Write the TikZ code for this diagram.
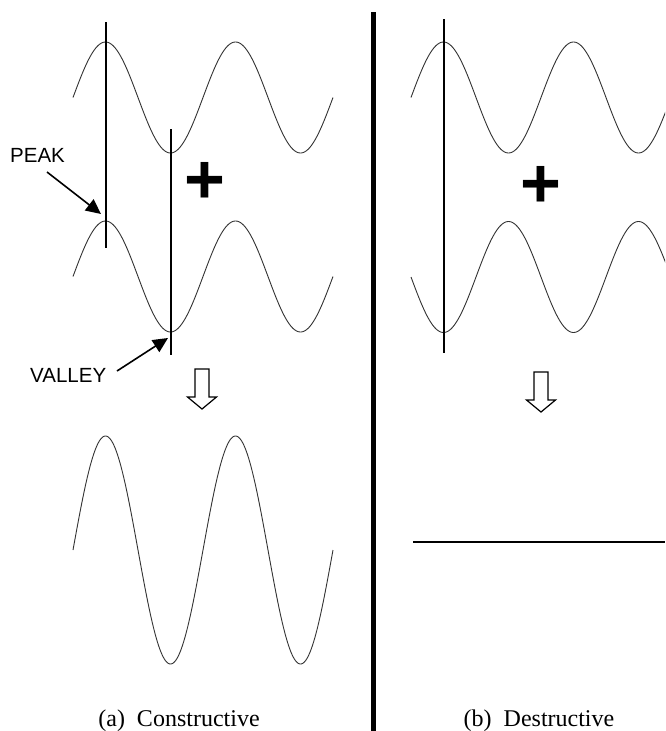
\documentclass[tikz,border=0pt]{standalone}
\usepackage{fontspec}
\newfontfamily\labelfont{Liberation Sans}
\newfontfamily\capfont{Liberation Serif}
\usetikzlibrary{arrows.meta}
\begin{document}
\begin{tikzpicture}[x=1pt,y=-1pt,
  wave/.style={draw=black!80, line width=0.9pt, line join=round},
  guide/.style={draw=black, line width=1.4pt},
  ptr/.style={draw=black, line width=1.6pt, -{Triangle[length=15pt,width=14pt]}},
  blockarrow/.style={draw=black, line width=1.2pt, fill=white, line join=miter},
  lbl/.style={font=\labelfont\fontsize{20.5}{22}\selectfont, inner sep=0pt},
  captext/.style={font=\capfont\fontsize{24}{26}\selectfont, inner sep=0pt},
  plussign/.style={font=\labelfont\bfseries\fontsize{70}{70}\selectfont, inner sep=0pt}]
\useasboundingbox (0,0) rectangle (665,731);

% ---------- left panel: constructive ----------
\draw[wave] plot[domain=73:333, samples=240] (\x, {97.5 - 55.5*sin(2.76923*(\x-73))});
\draw[wave] plot[domain=73:333, samples=240] (\x, {276.5 - 55.5*sin(2.76923*(\x-73))});
\draw[wave] plot[domain=73:333, samples=300] (\x, {550 - 114*sin(2.76923*(\x-73))});

\coordinate (g1top) at (106,22);  \coordinate (g1bot) at (106,248);
\coordinate (g2top) at (171,129); \coordinate (g2bot) at (171,355);
\draw[guide] (g1top) -- (g1bot);
\draw[guide] (g2top) -- (g2bot);

\node[plussign] (plusL) at (204.5,183) {+};

\node[lbl, anchor=base west] (peak) at (10,162) {PEAK};
\coordinate (peakfrom) at (47,172);
\coordinate (peaktip) at (101,214);
\draw[ptr] (peakfrom) -- (peaktip);

\node[lbl, anchor=base west] (valley) at (30,382) {VALLEY};
\coordinate (valleyfrom) at (117,371);
\coordinate (valleytip) at (168,338);
\draw[ptr] (valleyfrom) -- (valleytip);

\draw[blockarrow] (195,369) -- (209,369) -- (209,397) -- (216.5,397) -- (202,409)
  -- (187.5,397) -- (195,397) -- cycle;

\node[captext, anchor=base] (capA) at (179,726) {(a)\ \ Constructive};

% ---------- divider ----------
\coordinate (divtop) at (373.5,12);
\coordinate (divbot) at (373.5,731);
\draw[draw=black, line width=5.5pt] (divtop) -- (divbot);

% ---------- right panel: destructive ----------
\begin{scope}
\clip (376,0) rectangle (665,731);
\draw[wave] plot[domain=411:670, samples=240] (\x, {97.5 - 55.5*sin(2.76923*(\x-411))});
\draw[wave] plot[domain=411:670, samples=240] (\x, {277 + 55.5*sin(2.76923*(\x-411))});
\end{scope}

\coordinate (g3top) at (444,19); \coordinate (g3bot) at (444,353);
\draw[guide] (g3top) -- (g3bot);

\node[plussign] (plusR) at (540.5,187) {+};

\draw[blockarrow] (534,372) -- (548,372) -- (548,400) -- (555.5,400) -- (541,412)
  -- (526.5,400) -- (534,400) -- cycle;

\coordinate (flatL) at (413,542);
\coordinate (flatR) at (665,542);
\draw[draw=black, line width=1.6pt] (flatL) -- (flatR);

\node[captext, anchor=base] (capB) at (539,726) {(b)\ \ Destructive};
\end{tikzpicture}
\end{document}
